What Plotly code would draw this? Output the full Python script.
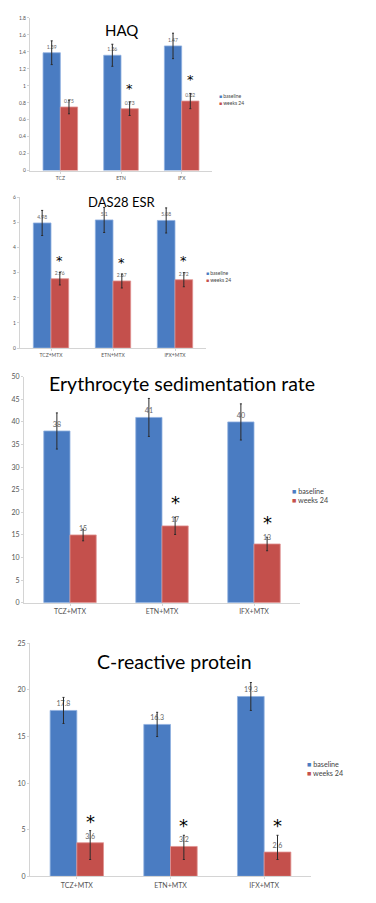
import plotly.graph_objects as go

# ---------------- data ----------------
haq_cats = ["TCZ", "ETN", "IFX"]
cats = ["TCZ+MTX", "ETN+MTX", "IFX+MTX"]
series_names = ["baseline", "weeks 24"]

haq_base = [1.39, 1.36, 1.47]
haq_w24 = [0.75, 0.73, 0.82]
haq_base_err = [0.14, 0.13, 0.15]
haq_w24_err = [0.08, 0.08, 0.09]
haq_sig = [False, True, True]

das_base = [4.98, 5.1, 5.08]
das_w24 = [2.76, 2.67, 2.72]
das_base_err = [0.5, 0.5, 0.5]
das_w24_err = [0.25, 0.28, 0.28]
das_sig = [True, True, True]

esr_base = [38, 41, 40]
esr_w24 = [15, 17, 13]
esr_base_err = [4, 4.2, 4]
esr_w24_err = [1.3, 1.9, 1.5]
esr_sig = [False, True, True]

crp_base = [17.8, 16.3, 19.3]
crp_w24 = [3.6, 3.2, 2.6]
crp_base_err = [1.4, 1.3, 1.5]
crp_w24_err_up = [1.3, 1.2, 1.8]
crp_w24_err_dn = [1.8, 1.4, 0.8]
crp_sig = [True, True, True]

titles = ["HAQ", "DAS28 ESR", "Erythrocyte sedimentation rate", "C-reactive protein"]

# ---------------- style ----------------
W, H = 376, 903
BLUE = "#4a7cc2"
BLUE_EDGE = "#8fb0e0"
RED = "#c4504c"
RED_EDGE = "#e09290"
ERR = "#2b2b2b"
FONT = "Lato, 'Open Sans', sans-serif"
BARGAP = 0.43


def px(x):
    return x / W


def py(y):
    return 1 - y / H


fig = go.Figure()

panels = [
    dict(cats=haq_cats, base=haq_base, w24=haq_w24, be=haq_base_err, we=haq_w24_err, wem=haq_w24_err,
         sig=haq_sig, ax="", xd=(22, 204), yd=(159, 5), rng=(0, 1.8), dt=0.2, tick=5, lbl=5,
         title=(113, 17, 15), leg=(209, 87, 5), star_d=17, star=13),
    dict(cats=cats, base=das_base, w24=das_w24, be=das_base_err, we=das_w24_err, wem=das_w24_err,
         sig=das_sig, ax="2", xd=(12, 198), yd=(338, 186), rng=(0, 6), dt=1, tick=5, lbl=5,
         title=(113, 191, 13), leg=(196, 265.5, 5), star_d=15, star=13),
    dict(cats=cats, base=esr_base, w24=esr_w24, be=esr_base_err, we=esr_w24_err, wem=esr_w24_err,
         sig=esr_sig, ax="3", xd=(16, 292), yd=(595, 367), rng=(0, 50), dt=5, tick=7, lbl=7,
         title=(174, 374, 19.5), leg=(282, 487.5, 7.2), star_d=19, star=18),
    dict(cats=cats, base=crp_base, w24=crp_w24, be=crp_base_err, we=crp_w24_err_up, wem=crp_w24_err_dn,
         sig=crp_sig, ax="4", xd=(22, 303), yd=(871, 636), rng=(0, 25), dt=5, tick=7, lbl=7,
         title=(166, 654, 19.5), leg=(297, 762.5, 7.2), star_d=14, star=18),
]

annotations = []
for i, p in enumerate(panels):
    xa = "x" + p["ax"]
    ya = "y" + p["ax"]
    for name, vals, eup, edn, col, edge in [
        (series_names[0], p["base"], p["be"], p["be"], BLUE, BLUE_EDGE),
        (series_names[1], p["w24"], p["we"], p["wem"], RED, RED_EDGE),
    ]:
        fig.add_trace(go.Bar(
            x=p["cats"], y=vals, name=name, xaxis=xa, yaxis=ya, showlegend=False,
            marker=dict(color=col, line=dict(color=edge, width=0.8)),
            error_y=dict(type="data", array=eup, arrayminus=edn, symmetric=False,
                         color=ERR, thickness=1, width=1),
            text=[str(v) for v in vals], textposition="outside", constraintext="none",
            textfont=dict(size=p["lbl"], color="#666", family=FONT),
            cliponaxis=False,
        ))
    # significance stars over the "weeks 24" bars
    cat_w = (p["xd"][1] - p["xd"][0]) / 3
    for c, v, e, s in zip(p["cats"], p["w24"], p["we"], p["sig"]):
        if s:
            annotations.append(dict(
                x=c, y=v + e, xref=xa, yref=ya, text="*", showarrow=False,
                xanchor="center", yanchor="middle",
                yshift=p["star_d"] - 0.25 * p["star"],
                xshift=cat_w * (1 - BARGAP) / 4,
                font=dict(size=p["star"], color="black", family="DejaVu Sans")))
    # title
    tx, ty, ts = p["title"]
    annotations.append(dict(x=px(tx), y=py(ty), xref="paper", yref="paper", text=titles[i],
                            showarrow=False, xanchor="center", yanchor="middle",
                            font=dict(size=ts, color="black", family=FONT)))
    # legend (as text, two lines in one block)
    lx, ly, ls = p["leg"]
    leg_text = "<br>".join(
        f"<span style='color:{col}'>■</span> {nm}"
        for nm, col in [(series_names[0], BLUE), (series_names[1], RED)])
    annotations.append(dict(x=px(lx), y=py(ly), xref="paper", yref="paper",
                            text=leg_text, align="left",
                            showarrow=False, xanchor="left", yanchor="middle",
                            font=dict(size=ls, color="#444", family=FONT)))
    axis_common = dict(showline=True, linecolor="#d4d4d4", linewidth=1, showgrid=False,
                       zeroline=False, ticks="outside", ticklen=2, tickcolor="#d4d4d4",
                       tickfont=dict(size=p["tick"], color="#555", family=FONT))
    fig.update_layout(**{
        "xaxis" + p["ax"]: dict(domain=[px(p["xd"][0]), px(p["xd"][1])], anchor=ya,
                                type="category", **axis_common),
        "yaxis" + p["ax"]: dict(domain=[py(p["yd"][0]), py(p["yd"][1])], anchor=xa,
                                range=list(p["rng"]), dtick=p["dt"], **axis_common),
    })

fig.update_layout(
    width=W, height=H, autosize=False,
    margin=dict(l=0, r=0, t=0, b=0),
    paper_bgcolor="white", plot_bgcolor="white",
    barmode="group", bargap=BARGAP, bargroupgap=0,
    showlegend=False,
    annotations=annotations,
    font=dict(family=FONT),
)

fig.write_html("out.html")
